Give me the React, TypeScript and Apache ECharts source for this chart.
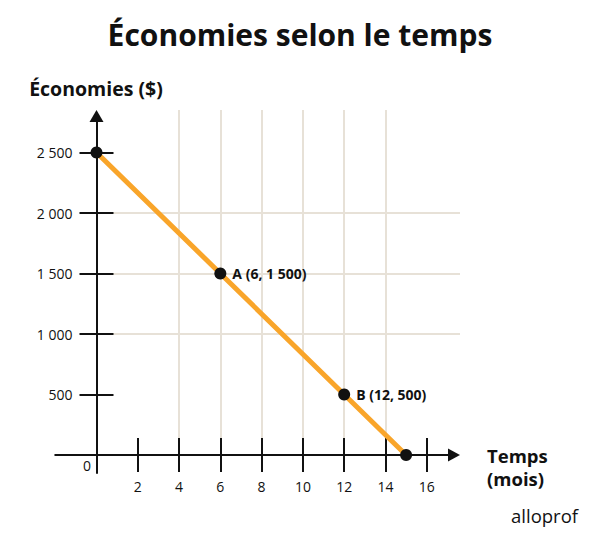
import * as echarts from 'echarts';
import { useEffect, useRef } from 'react';

// données du graphique
const months = [0, 6, 12, 15];
const savings = [2500, 1500, 500, 0];
const pointNames = ['', 'A', 'B', ''];
const xTicks = [2, 4, 6, 8, 10, 12, 14, 16];
const yTicks = [500, 1000, 1500, 2000, 2500];

const FONT = '"Open Sans"';
const INK = '#111111';
const GRID_COLOR = '#e7e1d7';
const LINE_COLOR = '#f9a52a';

// échelle en pixels (origine et pas)
const ox = 96.5;
const oy = 455;
const sx = 20.64;
const sy = 0.121;

// "2 500" style
function fmt(v: number): string {
  if (v >= 1000) return `${Math.floor(v / 1000)} ${String(v % 1000).padStart(3, '0')}`;
  return String(v);
}

export default function App() {
  const chartRef = useRef<HTMLDivElement>(null);

  useEffect(() => {
    if (!chartRef.current) return;
    const chart = echarts.init(chartRef.current, undefined, { renderer: 'svg' });

    // grille des axes (lignes fléchées qui dépassent l'origine)
    // le triangle est centré sur le bout de la ligne
    const g0Left = ox - 2 * sx;
    const g0Top = 116;
    const g0Right = 454;
    const g0Bottom = 473;
    // grille des données (quadrillage, graduations intérieures, étiquettes)
    const g1Top = 110;
    const g1Right = 460;

    const tickStyle = { color: INK, width: 2 };

    chart.setOption({
      animation: false,
      backgroundColor: '#ffffff',
      textStyle: { fontFamily: FONT },
      title: {
        text: 'Économies selon le temps',
        left: 'center',
        top: 14,
        textStyle: { fontFamily: FONT, fontSize: 30, fontWeight: 'bold', color: INK },
      },
      grid: [
        {
          left: g0Left,
          top: g0Top,
          width: g0Right - g0Left,
          height: g0Bottom - g0Top,
          containLabel: false,
          outerBoundsMode: 'none',
        },
        {
          left: ox,
          top: g1Top,
          width: g1Right - ox,
          height: oy - g1Top,
          containLabel: false,
          outerBoundsMode: 'none',
        },
      ],
      xAxis: [
        {
          gridIndex: 0,
          type: 'value',
          min: -2,
          max: (g0Right - ox) / sx,
          axisLine: {
            show: true,
            onZero: true,
            symbol: ['none', 'triangle'],
            symbolSize: [13, 12],
            lineStyle: { color: INK, width: 2 },
          },
          axisTick: { show: true, inside: false, length: 17, customValues: xTicks, lineStyle: tickStyle },
          axisLabel: { show: false },
          splitLine: { show: false },
        },
        {
          gridIndex: 1,
          type: 'value',
          min: 0,
          max: (g1Right - ox) / sx,
          interval: 2,
          axisLine: { show: false },
          axisTick: { show: true, inside: true, length: 17, customValues: xTicks, lineStyle: tickStyle },
          axisLabel: { show: true, customValues: xTicks, margin: 24, fontSize: 14, color: INK, fontFamily: FONT },
          splitLine: { show: true, showMinLine: false, showMaxLine: false, lineStyle: { color: GRID_COLOR, width: 2 } },
        },
      ],
      yAxis: [
        {
          gridIndex: 0,
          type: 'value',
          min: -(g0Bottom - oy) / sy,
          max: (oy - g0Top) / sy,
          axisLine: {
            show: true,
            onZero: true,
            symbol: ['none', 'triangle'],
            symbolSize: [14, 12],
            lineStyle: { color: INK, width: 2 },
          },
          axisTick: { show: true, inside: false, length: 17, customValues: yTicks, lineStyle: tickStyle },
          axisLabel: { show: false },
          splitLine: { show: false },
        },
        {
          gridIndex: 1,
          type: 'value',
          min: 0,
          max: (oy - g1Top) / sy,
          interval: 500,
          axisLine: { show: false },
          axisTick: { show: true, inside: true, length: 17, customValues: yTicks, lineStyle: tickStyle },
          axisLabel: {
            show: true,
            customValues: yTicks,
            margin: 24,
            fontSize: 14,
            color: INK,
            fontFamily: FONT,
            formatter: (v: number) => fmt(v),
          },
          splitLine: { show: true, showMinLine: false, showMaxLine: false, lineStyle: { color: GRID_COLOR, width: 2 } },
        },
      ],
      series: [
        {
          type: 'line',
          xAxisIndex: 1,
          yAxisIndex: 1,
          clip: false,
          data: months.map((m, i) => ({
            name: pointNames[i],
            value: [m, savings[i]],
            label: {
              show: pointNames[i] !== '',
              formatter: `${pointNames[i]} (${m}, ${fmt(savings[i])})`,
            },
          })),
          symbol: 'circle',
          symbolSize: 12,
          showAllSymbol: true,
          itemStyle: { color: INK },
          lineStyle: { color: LINE_COLOR, width: 5 },
          label: {
            position: 'right',
            distance: 6,
            fontFamily: FONT,
            fontSize: 14,
            fontWeight: 'bold',
            color: INK,
          },
          z: 5,
        },
      ],
      graphic: [
        {
          // titre de l'axe vertical
          type: 'text',
          x: 96,
          y: 88,
          style: {
            text: 'Économies ($)',
            font: `bold 19.5px ${FONT}`,
            fill: INK,
            align: 'center',
            verticalAlign: 'middle',
          },
        },
        {
          // titre de l'axe horizontal
          type: 'text',
          x: 487,
          y: 466.5,
          style: {
            text: 'Temps\n(mois)',
            font: `bold 18.5px ${FONT}`,
            lineHeight: 23,
            fill: INK,
            align: 'left',
            verticalAlign: 'middle',
          },
        },
        {
          type: 'text',
          x: 87,
          y: 465,
          style: { text: '0', font: `14px ${FONT}`, fill: INK, align: 'center', verticalAlign: 'middle' },
        },
        {
          type: 'text',
          x: 578,
          y: 515,
          style: { text: 'alloprof', font: `18.5px ${FONT}`, fill: INK, align: 'right', verticalAlign: 'middle' },
        },
      ],
    });

    return () => {
      chart.dispose();
    };
  }, []);

  return (
    <div
      ref={chartRef}
      style={{ position: 'absolute', left: 0, top: 0, width: 600, height: 542 }}
    />
  );
}
